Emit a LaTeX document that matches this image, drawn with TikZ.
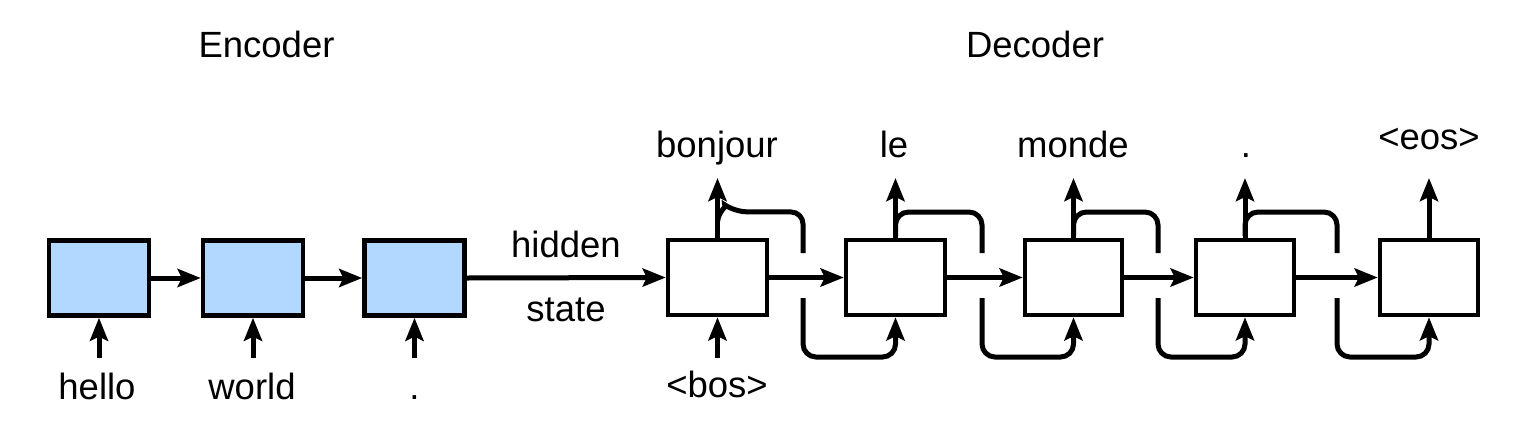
\documentclass[tikz,border=0pt]{standalone}
\usepackage{fontspec}
\setmainfont{Liberation Sans}
\usetikzlibrary{arrows.meta,calc}
\definecolor{encblue}{RGB}{179,216,255}
\begin{document}
\begin{tikzpicture}[x=1pt,y=-1pt,
  lbl/.style={font=\fontsize{36.5}{40}\selectfont, inner sep=0pt, anchor=base},
  encbox/.style={draw, line width=4.5pt, fill=encblue, minimum width=100pt, minimum height=75pt, inner sep=0pt},
  decbox/.style={draw, line width=4.5pt, fill=white, minimum width=99pt, minimum height=75pt, inner sep=0pt},
  tip/.style={-{Stealth[length=23pt 0 0,width=18pt 0 0,inset=4pt 0 0]}},
  arr/.style={line width=5pt, tip},
  fb/.style={line width=5pt, rounded corners=13pt}
]
\useasboundingbox (0,0) rectangle (1532,437);

% titles
\node[lbl] (tenc) at (266.5,57) {Encoder};
\node[lbl] (tdec) at (1035,57) {Decoder};

% encoder boxes
\node[encbox] (e1) at (99,278) {};
\node[encbox] (e2) at (253,278) {};
\node[encbox] (e3) at (414.5,278) {};

% decoder boxes
\node[decbox] (d1) at (717.5,277.5) {};
\node[decbox] (d2) at (895.5,277.5) {};
\node[decbox, minimum width=97pt] (d3) at (1073.5,277.5) {};
\node[decbox, minimum width=98pt] (d4) at (1245,277.5) {};
\node[decbox, minimum width=98pt] (d5) at (1429,277.5) {};

% encoder chain
\draw[arr] (e1.east) -- (e2.west);
\draw[arr] (e2.east) -- (e3.west);
\draw[arr] (e3.east) -- (d1.west);
\node[lbl] (hid) at (566,257) {hidden};
\node[lbl] (sta) at (566,321) {state};

% decoder chain
\draw[arr] (d1.east) -- (d2.west);
\draw[arr] (d2.east) -- (d3.west);
\draw[arr] (d3.east) -- (d4.west);
\draw[arr] (d4.east) -- (d5.west);

% inputs
\coordinate (i1) at (99,358);
\coordinate (i2) at (253,358);
\coordinate (i3) at (414.5,358);
\coordinate (ib) at (717.5,358);
\draw[arr] (i1) -- (e1.south);
\draw[arr] (i2) -- (e2.south);
\draw[arr] (i3) -- (e3.south);
\draw[arr] (ib) -- (d1.south);
\node[lbl] (lhello) at (97,399) {hello};
\node[lbl] (lworld) at (252,399) {world};
\node[lbl] (ldot) at (414.5,399) {.};
\node[lbl] (lbos) at (717,397) {<bos>};

% outputs
\coordinate (o1) at (717.5,178);
\coordinate (o2) at (895.5,178);
\coordinate (o3) at (1073.5,178);
\coordinate (o4) at (1245,178);
\coordinate (o5) at (1429,178);
\draw[arr] (d1.north) -- (o1);
\draw[arr] (d2.north) -- (o2);
\draw[arr] (d3.north) -- (o3);
\draw[arr] (d4.north) -- (o4);
\draw[arr] (d5.north) -- (o5);
\node[lbl] (lbon) at (717,157) {bonjour};
\node[lbl] (lle) at (894,157) {le};
\node[lbl] (lmon) at (1073,157) {monde};
\node[lbl] (lpt) at (1246,157) {.};
\node[lbl] (leos) at (1429,149) {<eos>};

% feedback gaps
\coordinate (g1t) at (803,253);  \coordinate (g1b) at (803,298);
\coordinate (g2t) at (982,253);  \coordinate (g2b) at (982,298);
\coordinate (g3t) at (1158,253); \coordinate (g3b) at (1158,298);
\coordinate (g4t) at (1337,253); \coordinate (g4b) at (1337,298);

% feedback loops
\draw[line width=5pt, rounded corners=12pt] ($(d1.north)+(0,-16)$) .. controls ($(d1.north)+(1.5,-28)$) and ($(d1.north)+(10,-31)$) .. ($(d1.north)+(17,-26)$) -- (g1t |- 0,212) -- (g1t);
\draw[fb] ($(d2.north)+(0,-2)$) |- (g2t |- 0,212) -- (g2t);
\draw[fb] ($(d3.north)+(0,-2)$) |- (g3t |- 0,212) -- (g3t);
\draw[fb] ($(d4.north)+(0,-2)$) |- (g4t |- 0,212) -- (g4t);

\draw[fb, tip] (g1b) |- (d2.south |- 0,357) -- (d2.south);
\draw[fb, tip] (g2b) |- (d3.south |- 0,357) -- (d3.south);
\draw[fb, tip] (g3b) |- (d4.south |- 0,357) -- (d4.south);
\draw[fb, tip] (g4b) |- (d5.south |- 0,357) -- (d5.south);
\end{tikzpicture}
\end{document}
